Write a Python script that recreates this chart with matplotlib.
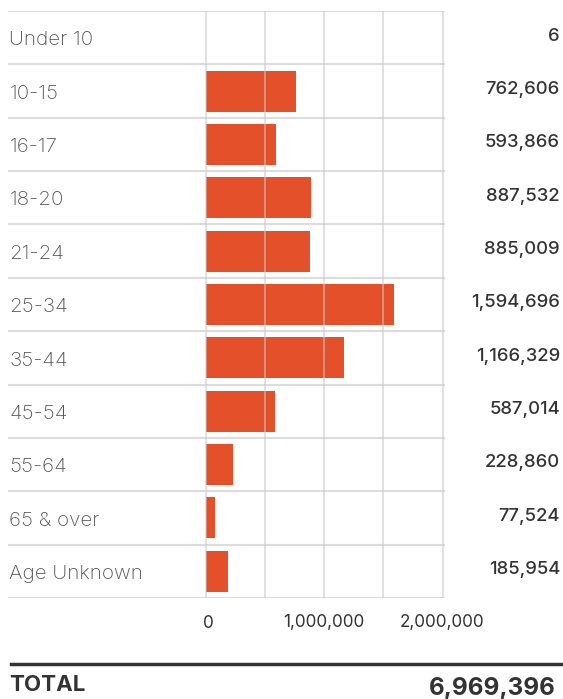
import matplotlib
matplotlib.use("Agg")
import matplotlib.pyplot as plt
from matplotlib.transforms import blended_transform_factory

categories = ["Under 10", "10-15", "16-17", "18-20", "21-24", "25-34", "35-44",
              "45-54", "55-64", "65 & over", "Age Unknown"]
values = [6, 762606, 593866, 887532, 885009, 1594696, 1166329, 587014,
          228860, 77524, 185954]
tick_values = [0, 1000000, 2000000]
tick_labels = ["0", "1,000,000", "2,000,000"]
grid_values = [0, 500000, 1000000, 1500000, 2000000]
total_label = "TOTAL"
total_value = "6,969,396"

plt.rcParams['font.family'] = ['Inter', 'DejaVu Sans']

W, H = 563, 699
fig = plt.figure(figsize=(W / 100, H / 100), dpi=100)

left_px, right_px, top_px, bot_px = 8, 445, 11, 598
zero_px = 205.5
ppu = 118.5 / 1000000.0
ax = fig.add_axes([left_px / W, 1 - bot_px / H, (right_px - left_px) / W, (bot_px - top_px) / H])
xmin = -(zero_px - left_px) / ppu
xmax = (right_px - zero_px) / ppu
ax.set_xlim(xmin, xmax)
n = len(categories)
ax.set_ylim(n - 0.5, -0.5)

bar_color = "#E4502A"
ax.barh(range(n), values, height=0.77, color=bar_color, zorder=2)

for g in grid_values:
    ax.axvline(g, color="#c8c8c8", lw=1.3, alpha=0.6, zorder=3)
for i in range(n + 1):
    ax.axhline(i - 0.5, color="#dcdcdc", lw=1.5, zorder=1)

for s in ax.spines.values():
    s.set_visible(False)
ax.set_xticks([])
ax.set_yticks([])

ytr = ax.get_yaxis_transform()
vtr = blended_transform_factory(fig.transFigure, ax.transData)
for i, (c, v) in enumerate(zip(categories, values)):
    ax.text(0.003, i + 0.05, c, transform=ytr, ha="left", va="center",
            fontsize=14.8, fontweight="light", color="#555555")
    ax.text(560 / W, i - 0.03, f"{v:,}", transform=vtr, ha="right", va="center",
            fontsize=13.3, fontweight="medium", color="#333333")

xtr = blended_transform_factory(ax.transData, fig.transFigure)
offs = [3 / ppu, 0, 0]
for t, lab, o in zip(tick_values, tick_labels, offs):
    ax.text(t + o, 1 - 623 / H, lab, transform=xtr, ha="center", va="center",
            fontsize=12.3, color="#333333")

fig.add_artist(plt.Line2D([11 / W, 1.0], [1 - 664 / H] * 2, color="#333333", lw=2.5,
                          transform=fig.transFigure))
fig.text(9 / W, 1 - 685 / H, total_label, ha="left", va="center", fontsize=16,
         fontweight="bold", color="#333333")
fig.text(556 / W, 1 - 688 / H, total_value, ha="right", va="center", fontsize=17.5,
         fontweight="bold", color="#333333")

fig.savefig("out.png", dpi=100)
